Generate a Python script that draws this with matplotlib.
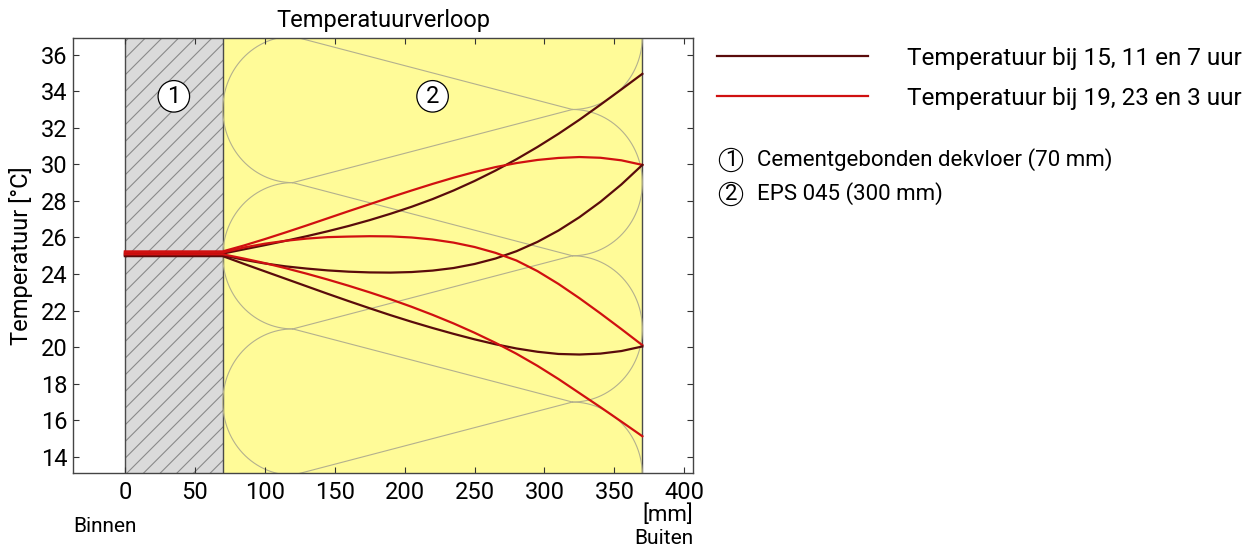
import numpy as np
import matplotlib
matplotlib.use("Agg")
import matplotlib.pyplot as plt

plt.rcParams["font.family"] = ["Roboto", "DejaVu Sans"]
plt.rcParams["hatch.linewidth"] = 0.8

# positie in de constructie [mm]
pos_mm = [0, 70, 85, 100, 115, 130, 145, 160, 175, 190, 205, 220,
          235, 250, 265, 280, 295, 310, 325, 340, 355, 370]

# temperatuur bij 15, 11 en 7 uur
t_15 = [25.12, 25.12, 25.35, 25.58, 25.82, 26.07, 26.34, 26.63, 26.95, 27.3, 27.68,
        28.1, 28.57, 29.09, 29.66, 30.28, 30.95, 31.67, 32.44, 33.26, 34.1, 34.95]
t_11 = [25.03, 25.03, 24.78, 24.58, 24.42, 24.3, 24.2, 24.13, 24.09, 24.08, 24.11,
        24.19, 24.33, 24.55, 24.85, 25.25, 25.76, 26.38, 27.11, 27.95, 28.9, 29.97]
t_7 = [24.98, 24.98, 24.56, 24.15, 23.74, 23.33, 22.92, 22.52, 22.13, 21.75, 21.39,
       21.05, 20.73, 20.43, 20.16, 19.93, 19.75, 19.63, 19.6, 19.65, 19.79, 20.04]

# temperatuur bij 19, 23 en 3 uur
t_19 = [25.24, 25.24, 25.56, 25.91, 26.28, 26.66, 27.05, 27.44, 27.82, 28.2, 28.57,
        28.93, 29.27, 29.58, 29.85, 30.07, 30.24, 30.35, 30.4, 30.36, 30.22, 29.97]
t_23 = [25.18, 25.18, 25.45, 25.66, 25.82, 25.94, 26.02, 26.05, 26.07, 26.06, 26.0,
        25.89, 25.72, 25.48, 25.16, 24.74, 24.16, 23.46, 22.68, 21.85, 20.99, 20.11]
t_3 = [25.08, 25.08, 24.85, 24.6, 24.32, 24.02, 23.7, 23.36, 23.0, 22.62, 22.21,
       21.77, 21.3, 20.79, 20.24, 19.64, 18.98, 18.26, 17.49, 16.72, 15.93, 15.13]

layer_edges = [0, 70, 370]
layer_names = ["Cementgebonden dekvloer (70 mm)", "EPS 045 (300 mm)"]
x_ticks = [0, 50, 100, 150, 200, 250, 300, 350, 400]
y_ticks = [14, 16, 18, 20, 22, 24, 26, 28, 30, 32, 34, 36]

dark = "#5a0b0b"
red = "#d01010"

fig = plt.figure(figsize=(12.48, 5.49), dpi=100)
ax = fig.add_axes([73 / 1248, 76 / 549, 620 / 1248, 435 / 549])
ax.set_xlim(-37.1, 406.2)
ax.set_ylim(13.12, 36.91)

# lagen
ax.axvspan(layer_edges[0], layer_edges[1], facecolor="#dadada", edgecolor="#8a8a8a",
           hatch="//", linewidth=0, zorder=0)
ax.axvspan(layer_edges[1], layer_edges[2], facecolor="#fffb98", linewidth=0, zorder=0)
for e in layer_edges:
    ax.axvline(e, color="#4a4a4a", lw=1.0, zorder=1)

# isolatie-symbool
a, b = layer_edges[1], layer_edges[2]
rx, ry = 50, 4
th = np.linspace(np.pi / 2, 3 * np.pi / 2, 60)
ins = dict(color="#b3b08e", lw=0.8, zorder=1)
for c in [41, 33, 25, 17, 9]:
    ax.plot(a + rx + rx * np.cos(th), c + ry * np.sin(th), **ins)
for c in [45, 37, 29, 21, 13, 5]:
    ax.plot(b - rx - rx * np.cos(th), c + ry * np.sin(th), **ins)
for yj in [45, 37, 29, 21, 13, 5]:
    ax.plot([a + rx, b - rx], [yj, yj + 4], **ins)
    ax.plot([a + rx, b - rx], [yj, yj - 4], **ins)

lw = 1.6
ax.plot(pos_mm, t_15, color=dark, lw=lw, zorder=3, label="Temperatuur bij 15, 11 en 7 uur")
ax.plot(pos_mm, t_19, color=red, lw=lw, zorder=3, label="Temperatuur bij 19, 23 en 3 uur")
ax.plot(pos_mm, t_11, color=dark, lw=lw, zorder=3)
ax.plot(pos_mm, t_23, color=red, lw=lw, zorder=3)
ax.plot(pos_mm, t_7, color=dark, lw=lw, zorder=3)
ax.plot(pos_mm, t_3, color=red, lw=lw, zorder=3)

# laagnummers
for i in range(2):
    mid = (layer_edges[i] + layer_edges[i + 1]) / 2
    ax.text(mid, 33.72, str(i + 1), ha="center", va="center", fontsize=17, zorder=4,
            bbox=dict(boxstyle="circle,pad=0.18", fc="white", ec="black", lw=0.9))

ax.set_xticks(x_ticks)
ax.set_yticks(y_ticks)
ax.tick_params(direction="in", length=4, width=0.8, top=True, right=True,
               labelsize=17, colors="#333333", labelcolor="black")
ax.tick_params(axis="y", pad=4)
ax.tick_params(axis="x", pad=6)
for s in ax.spines.values():
    s.set_color("#444444")
    s.set_linewidth(1.0)

fig.text(383 / 1248, 1 - 20 / 549, "Temperatuurverloop", ha="center", va="center", fontsize=17)
fig.text(21 / 1248, 1 - 256 / 549, "Temperatuur [°C]", ha="center", va="center",
         rotation=90, fontsize=17)
fig.text(73 / 1248, 1 - 527 / 549, "Binnen", ha="left", va="center", fontsize=15)
fig.text(693 / 1248, 1 - 515 / 549, "[mm]", ha="right", va="center", fontsize=16)
fig.text(693 / 1248, 1 - 539 / 549, "Buiten", ha="right", va="center", fontsize=15)

ax.legend(loc="upper left", bbox_to_anchor=(717 / 1248, 1 - 47 / 549),
          bbox_transform=fig.transFigure, frameon=False, fontsize=17.5,
          handlelength=6.2, handletextpad=1.6, labelspacing=0.68,
          borderpad=0, borderaxespad=0)

for i, name in enumerate(layer_names):
    yy = 1 - (160 + 34 * i) / 549
    fig.text(731 / 1248, yy, str(i + 1), ha="center", va="center", fontsize=16,
             bbox=dict(boxstyle="circle,pad=0.05", fc="none", ec="black", lw=0.8))
    fig.text(757 / 1248, yy, name, ha="left", va="center", fontsize=16)

fig.savefig("out.png", dpi=100)
